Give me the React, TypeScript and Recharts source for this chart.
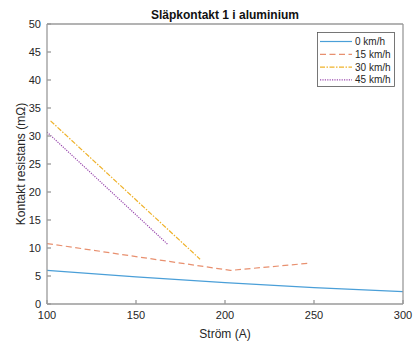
import { LineChart, Line, XAxis, YAxis, Legend, Label } from 'recharts';

// Ström (A) och kontaktresistans (mΩ)
const stromTicks = [100, 150, 200, 250, 300];
const resistansTicks = [0, 5, 10, 15, 20, 25, 30, 35, 40, 45, 50];

const strom0 = [100, 150, 200, 250, 300];
const res0 = [6.0, 4.83, 3.8, 2.93, 2.2];
const strom15 = [100, 203, 248];
const res15 = [10.8, 6.0, 7.3];
const strom30 = [102, 186];
const res30 = [32.7, 8.0];
const strom45 = [100, 168];
const res45 = [30.7, 10.6];

const serieNamn = ['0 km/h', '15 km/h', '30 km/h', '45 km/h'];
const serieFarg = ['#4a9fd8', '#e8906f', '#efb22a', '#9a4aae'];
const serieStreck = [undefined, '6 3.5', '5 1.5 1.5 1.5', '1.2 1.2'];

const toPoints = (xs: number[], ys: number[]) => xs.map((x, i) => ({ x, y: ys[i] }));
const serier = [
  toPoints(strom0, res0),
  toPoints(strom15, res15),
  toPoints(strom30, res30),
  toPoints(strom45, res45),
];

const axelFarg = '#9a9a9a';
const textFarg = '#262626';
const font = '"Liberation Sans", Arial, sans-serif';

const tomTick = () => <g />;

function LegendBox() {
  return (
    <svg width={79} height={56} style={{ display: 'block' }}>
      <rect x={0.5} y={0.5} width={77} height={54} fill="#fff" stroke="#555" strokeWidth={0.8} />
      {serieNamn.map((namn, i) => (
        <g key={namn}>
          <line
            x1={3}
            x2={35}
            y1={9.5 + i * 12.8}
            y2={9.5 + i * 12.8}
            stroke={serieFarg[i]}
            strokeWidth={1.2}
            strokeDasharray={serieStreck[i]}
          />
          <text x={38} y={13 + i * 12.8} fontSize={10} fill={textFarg} fontFamily={font}>
            {namn}
          </text>
        </g>
      ))}
    </svg>
  );
}

export default function App() {
  return (
    <div
      style={{
        position: 'absolute',
        left: 0,
        top: 0,
        width: 414,
        height: 344,
        background: '#fff',
        fontFamily: font,
      }}
    >
      <LineChart width={414} height={344} margin={{ top: 23, right: 10, bottom: 0, left: 17 }}>
        <XAxis
          xAxisId="b"
          type="number"
          dataKey="x"
          domain={[100, 300]}
          ticks={stromTicks}
          allowDataOverflow
          height={40}
          tickSize={-4}
          tickMargin={11}
          stroke={axelFarg}
          strokeWidth={1.3}
          tick={{ fill: textFarg, fontSize: 11 }}
        >
          <Label value="Ström (A)" position="insideBottom" offset={6} fill={textFarg} fontSize={12} />
        </XAxis>
        <XAxis
          xAxisId="t"
          orientation="top"
          type="number"
          domain={[100, 300]}
          ticks={stromTicks}
          height={1}
          tickSize={-4}
          stroke={axelFarg}
          strokeWidth={1.3}
          tick={tomTick}
        >
          <Label
            value="Släpkontakt 1 i aluminium"
            position="top"
            offset={4}
            fill="#111"
            fontSize={12}
            fontWeight="bold"
          />
        </XAxis>
        <YAxis
          yAxisId="l"
          type="number"
          domain={[0, 50]}
          ticks={resistansTicks}
          width={30}
          tickSize={-4}
          tickMargin={10}
          stroke={axelFarg}
          strokeWidth={1.3}
          tick={{ fill: textFarg, fontSize: 11 }}
        >
          <Label
            content={({ viewBox }: any) => {
              const cx = viewBox.x + 4;
              const cy = viewBox.y + viewBox.height / 2;
              return (
                <text
                  x={cx}
                  y={cy}
                  transform={`rotate(-90, ${cx}, ${cy})`}
                  textAnchor="middle"
                  dominantBaseline="central"
                  fontSize={12}
                  fill={textFarg}
                  fontFamily={font}
                >
                  Kontakt resistans (mΩ)
                </text>
              );
            }}
          />
        </YAxis>
        <YAxis
          yAxisId="r"
          orientation="right"
          type="number"
          domain={[0, 50]}
          ticks={resistansTicks}
          width={1}
          tickSize={-4}
          stroke={axelFarg}
          strokeWidth={1.3}
          tick={tomTick}
        />
        <Legend
          layout="vertical"
          align="center"
          verticalAlign="middle"
          content={() => <LegendBox />}
          wrapperStyle={{ position: 'absolute', left: 317, top: 32, width: 'auto' }}
        />
        {serier.map((data, i) => (
          <Line
            key={serieNamn[i]}
            xAxisId="b"
            yAxisId="l"
            data={data}
            dataKey="y"
            name={serieNamn[i]}
            type="linear"
            stroke={serieFarg[i]}
            strokeWidth={1.2}
            strokeDasharray={serieStreck[i]}
            dot={false}
            activeDot={false}
            isAnimationActive={false}
          />
        ))}
      </LineChart>
    </div>
  );
}
